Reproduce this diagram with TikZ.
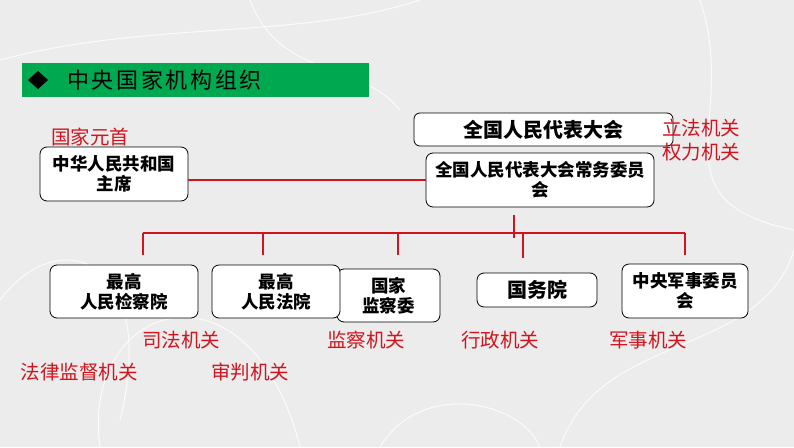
\documentclass[tikz,border=0pt]{standalone}
\usepackage{fontspec}
\setmainfont{Noto Sans CJK SC}
\newfontfamily\titlefont[LetterSpace=12]{Noto Sans CJK SC}
\definecolor{bgc}{RGB}{236,236,236}
\definecolor{redc}{RGB}{210,20,30}
\definecolor{greenc}{RGB}{0,168,80}
\begin{document}
\begin{tikzpicture}[x=1pt,y=-1pt,
  box/.style={draw=black, line width=0.8pt, rounded corners=7pt, fill=white, inner sep=0pt, align=center, font=\fontsize{17.5}{20}\selectfont\bfseries},
  bigbox/.style={box, font=\fontsize{20}{23}\selectfont\bfseries},
  lab/.style={text=redc, inner sep=0pt, font=\fontsize{19.5}{22}\selectfont},
  link/.style={draw=redc, line width=2pt}]
\useasboundingbox (0,0) rectangle (794,447);
\fill[bgc] (0,0) rectangle (794,447);
% faint background scribbles
\begin{scope}[white, line width=1pt, opacity=0.8]
\draw (0,60) .. controls (150,20) and (300,40) .. (420,0);
\draw (100,447) .. controls (80,300) and (250,250) .. (300,447);
\draw (560,447) .. controls (600,330) and (760,360) .. (794,250);
\draw (700,0) .. controls (740,120) and (650,200) .. (794,230);
\draw (0,300) .. controls (60,220) and (160,260) .. (120,420);
\draw (380,447) .. controls (420,380) and (520,400) .. (540,447);
\draw (250,0) .. controls (280,80) and (360,60) .. (400,110);
\end{scope}
% title bar
\fill[greenc] (22,63) rectangle (369,97);
\fill[black] (28,80) -- (38,71) -- (48,80) -- (38,89) -- cycle;
\node[anchor=west, inner sep=0pt, font=\titlefont\fontsize{22}{24}\selectfont] (title) at (67,80) {中央国家机构组织};
% boxes
\node[box, minimum width=148pt, minimum height=54pt] (pres) at (114,174) {中华人民共和国\\主席};
\node[bigbox, minimum width=259pt, minimum height=33pt, rounded corners=6pt] (npc) at (543.5,129.5) {全国人民代表大会};
\node[box, minimum width=228pt, minimum height=54pt] (npcsc) at (540,180) {全国人民代表大会常务委员\\会};
\node[box, minimum width=148pt, minimum height=53pt] (procur) at (124,291.5) {最高\\人民检察院};
\node[box, minimum width=103pt, minimum height=53pt] (superv) at (388.5,295.5) {国家\\监察委};
\node[box, minimum width=128pt, minimum height=53pt] (court) at (276,291.5) {最高\\人民法院};
\node[bigbox, minimum width=120pt, minimum height=34pt] (state) at (537,290) {国务院};
\node[box, minimum width=126pt, minimum height=54pt] (cmc) at (685,291) {中央军事委员\\会};
% connectors
\draw[link] (pres.east |- npcsc.west) -- (npcsc.west);
\coordinate (t1) at (514,215);
\coordinate (t2) at (514,238);
\draw[link, line width=1.6pt] (t1) -- (t2);
\coordinate (bl) at (143,233);
\coordinate (br) at (685,233);
\draw[link] (bl) -- (br);
\coordinate (d1) at (143,255);
\coordinate (d2a) at (263,233);
\coordinate (d2) at (263,255);
\coordinate (d3a) at (398,233);
\coordinate (d3) at (398,255);
\coordinate (d4a) at (523,233);
\coordinate (d4) at (523,258);
\coordinate (d5) at (685,255);
\draw[link] (bl) -- (d1);
\draw[link] (d2a) -- (d2);
\draw[link] (d3a) -- (d3);
\draw[link] (d4a) -- (d4);
\draw[link] (br) -- (d5);
% red labels
\node[lab] (l1) at (90,137) {国家元首};
\node[lab] (l2) at (701,128) {立法机关};
\node[lab] (l3) at (701,152) {权力机关};
\node[lab] (l4) at (181,340) {司法机关};
\node[lab] (l5) at (79,372) {法律监督机关};
\node[lab] (l6) at (250,372) {审判机关};
\node[lab] (l7) at (366,340) {监察机关};
\node[lab] (l8) at (500,340) {行政机关};
\node[lab] (l9) at (648,340) {军事机关};
\end{tikzpicture}
\end{document}
